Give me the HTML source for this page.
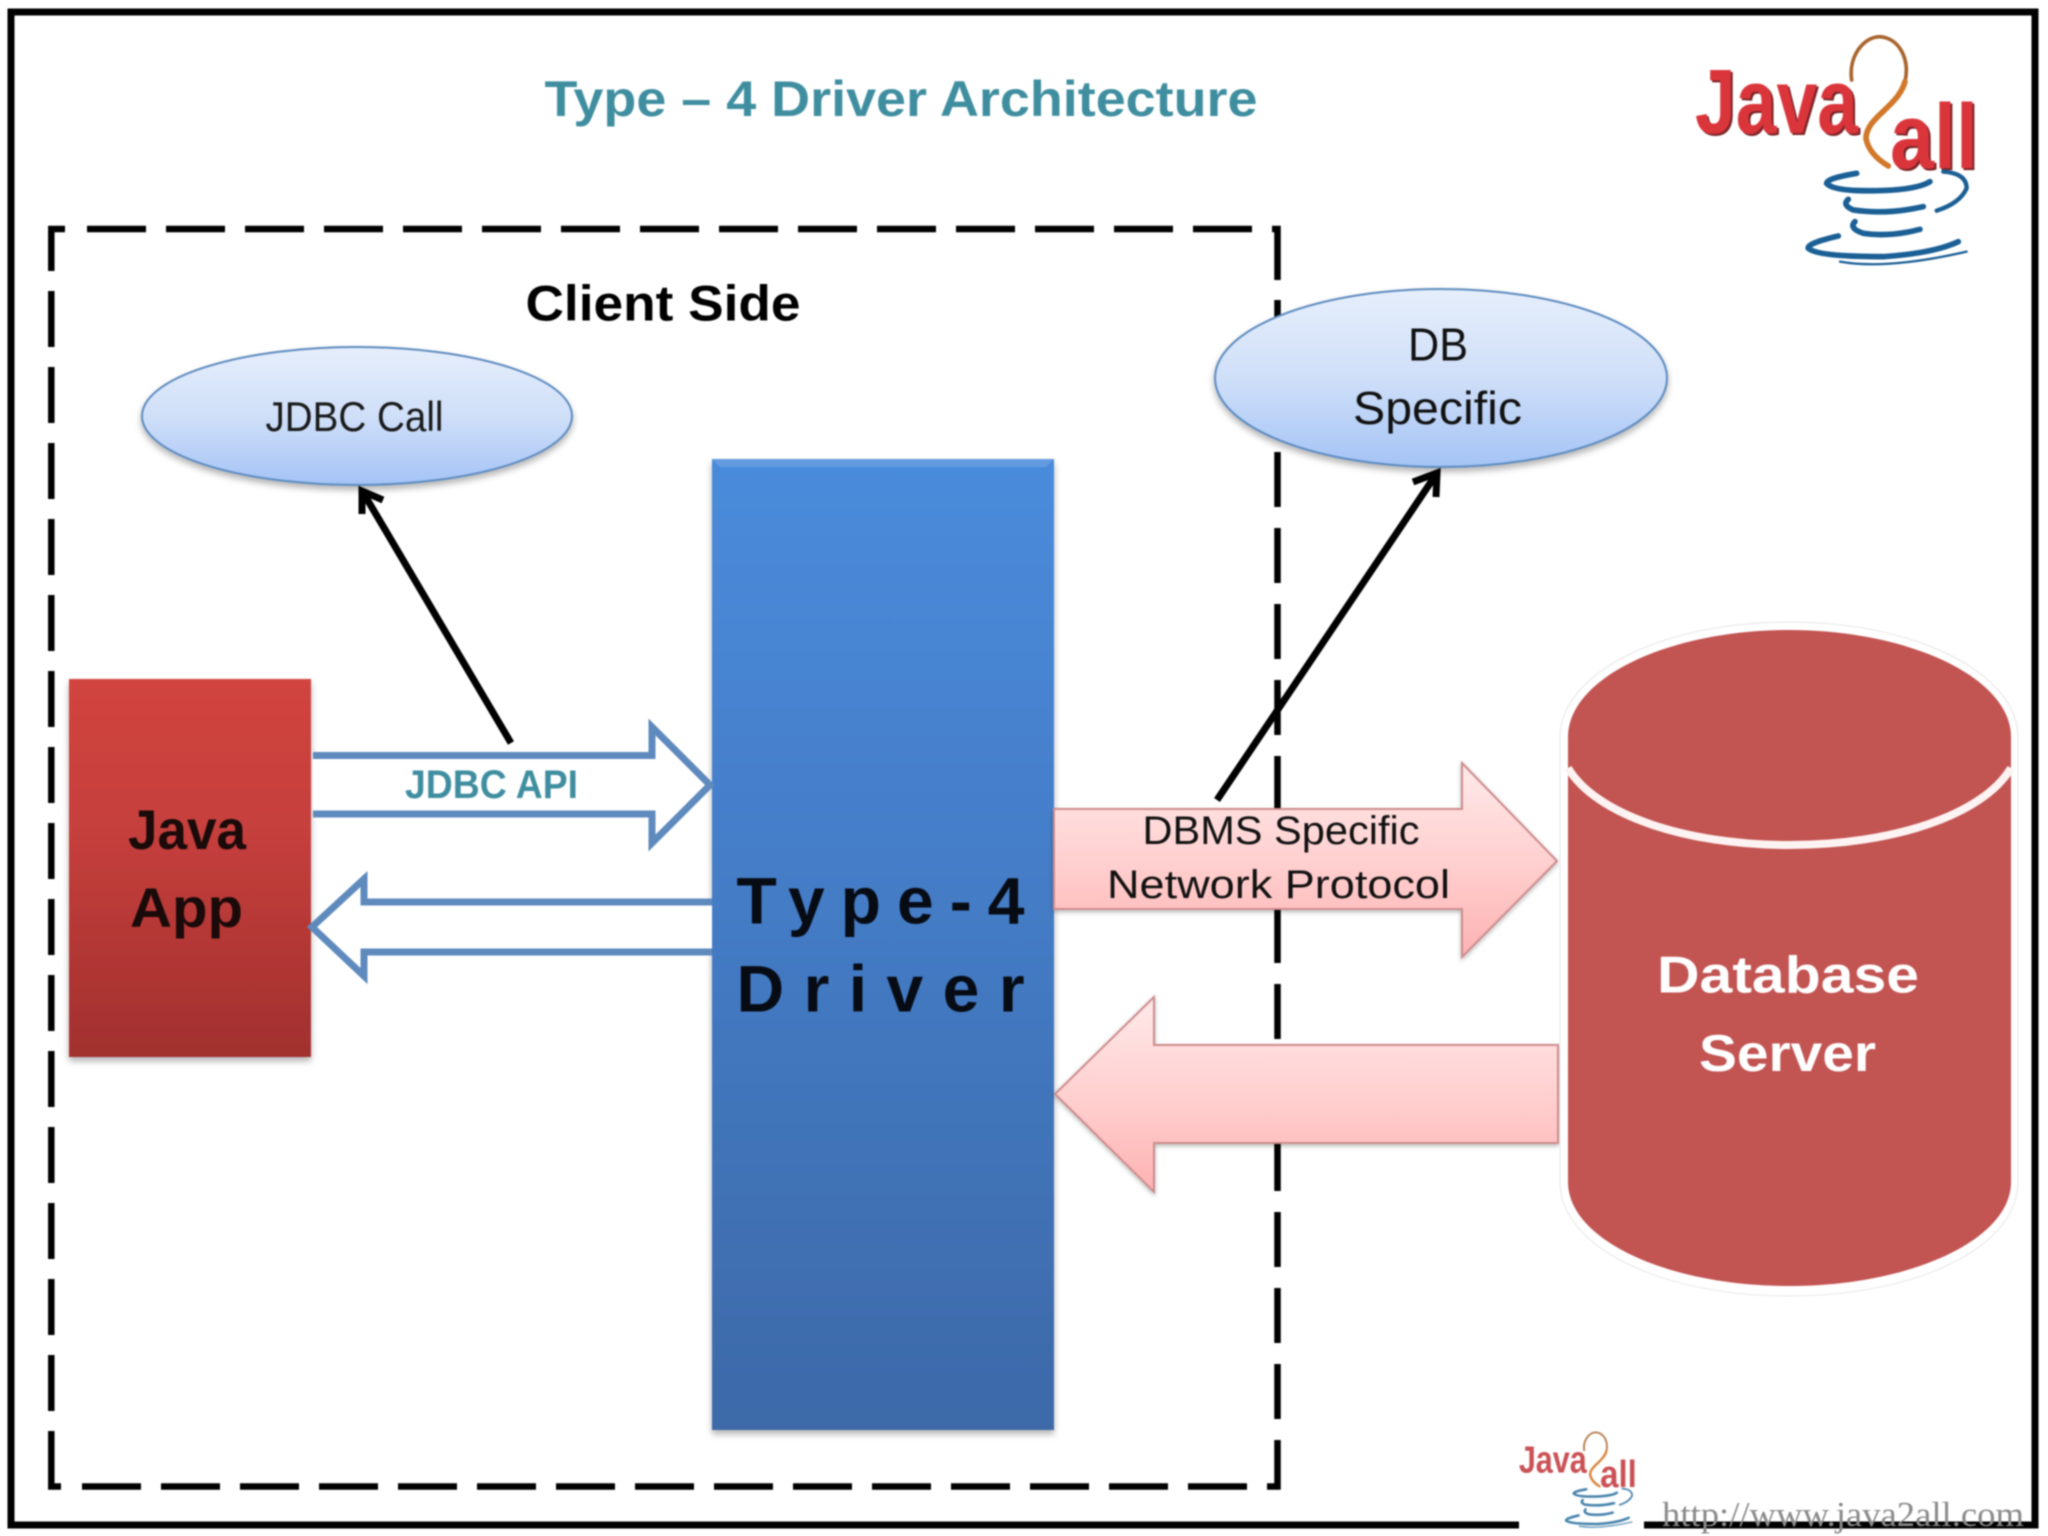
<!DOCTYPE html>
<html>
<head>
<meta charset="utf-8">
<title>Type 4 Driver Architecture</title>
<style>
html,body{margin:0;padding:0;background:#fff;width:2048px;height:1536px;overflow:hidden}
svg{display:block;filter:blur(.8px)}
text{font-family:"Liberation Sans",sans-serif}
</style>
</head>
<body>
<svg width="2048" height="1536" viewBox="0 0 2048 1536" xmlns="http://www.w3.org/2000/svg">
<defs>
<linearGradient id="ell" x1="0" y1="0" x2="0" y2="1"><stop offset="0" stop-color="#e6eefb"/><stop offset=".5" stop-color="#cfdff8"/><stop offset="1" stop-color="#a4c3f5"/></linearGradient>
<linearGradient id="blue" x1="0" y1="0" x2="0" y2="1"><stop offset="0" stop-color="#4a8bdb"/><stop offset=".35" stop-color="#457fcb"/><stop offset="1" stop-color="#3d69a8"/></linearGradient>
<linearGradient id="red" x1="0" y1="0" x2="0" y2="1"><stop offset="0" stop-color="#d1443f"/><stop offset=".4" stop-color="#c53f3c"/><stop offset="1" stop-color="#a1302e"/></linearGradient>
<linearGradient id="pink" x1="0" y1="0" x2="0" y2="1"><stop offset="0" stop-color="#ffe9e9"/><stop offset=".5" stop-color="#ffd0d0"/><stop offset="1" stop-color="#fdb2b2"/></linearGradient>
<filter id="sh" x="-10%" y="-10%" width="120%" height="120%"><feDropShadow dx="0" dy="4" stdDeviation="3.5" flood-color="#000" flood-opacity=".3"/></filter>
<filter id="glow" x="-5%" y="-5%" width="110%" height="110%"><feDropShadow dx="0" dy="2" stdDeviation="2.5" flood-color="#000" flood-opacity=".28"/></filter>
</defs>

<!-- Outer frame -->
<path d="M11 12H2035V1525H11Z" fill="none" stroke="#000" stroke-width="7"/>
<rect x="1519" y="1515" width="125" height="21" fill="#fff"/>

<!-- Dashed client box -->
<g fill="none" stroke="#000" stroke-width="6.5">
<path d="M87 229H1255" stroke-dasharray="59 20"/>
<path d="M82 1486.5H1250" stroke-dasharray="59 20"/>
<path d="M51.3 291V1425" stroke-dasharray="56 20"/>
<path d="M1277.5 300V1420" stroke-dasharray="55 21"/>
<path d="M65 229H51.3V271"/>
<path d="M1272 229H1277.5V280"/>
<path d="M61 1486.5H51.3V1431"/>
<path d="M1267 1486.5H1277.5V1440"/>
</g>

<!-- Title -->
<text x="544.5" y="116" font-size="50" font-weight="700" fill="#3f8ea0" textLength="713" lengthAdjust="spacingAndGlyphs">Type – 4 Driver Architecture</text>
<text x="525.5" y="320.5" font-size="50" font-weight="700" fill="#000" textLength="275" lengthAdjust="spacingAndGlyphs">Client Side</text>

<!-- Ellipses -->
<ellipse cx="357" cy="416" rx="215" ry="69" fill="url(#ell)" stroke="#5d8bc0" stroke-width="2" filter="url(#sh)"/>
<text x="265.5" y="431" font-size="42" fill="#1a1a1a" textLength="178" lengthAdjust="spacingAndGlyphs">JDBC Call</text>
<ellipse cx="1441" cy="378" rx="226" ry="89" fill="url(#ell)" stroke="#5d8bc0" stroke-width="2" filter="url(#sh)"/>
<text x="1408" y="360.5" font-size="46" fill="#111" textLength="60" lengthAdjust="spacingAndGlyphs">DB</text>
<text x="1353" y="424" font-size="46" fill="#111" textLength="169" lengthAdjust="spacingAndGlyphs">Specific</text>

<!-- Blue driver -->
<rect x="712" y="459" width="342" height="971" fill="url(#blue)" filter="url(#sh)"/>
<path d="M712 459H1054L1046 467H720Z" fill="#6fa3e4" opacity=".7"/>
<text x="736.5" y="923.5" font-size="66" font-weight="700" fill="#070b14" textLength="288">Type-4</text>
<text x="736.5" y="1011.5" font-size="66" font-weight="700" fill="#070b14" textLength="288">Driver</text>

<!-- Java App -->
<rect x="69" y="679" width="242" height="378" fill="url(#red)" filter="url(#sh)"/>
<text x="128" y="849" font-size="56" font-weight="700" fill="#1a0a0a" textLength="118" lengthAdjust="spacingAndGlyphs">Java</text>
<text x="130" y="927" font-size="56" font-weight="700" fill="#1a0a0a" textLength="113" lengthAdjust="spacingAndGlyphs">App</text>

<!-- JDBC arrows -->
<path d="M313 755.5H652V727L710 785L652 843V814H313" fill="#fff" stroke="#5f8abd" stroke-width="7" stroke-linejoin="miter"/>
<text x="405" y="798" font-size="40" font-weight="700" fill="#3f8ea0" textLength="173" lengthAdjust="spacingAndGlyphs">JDBC API</text>
<path d="M712 902H364V879L312 927L364 976V952H712" fill="#fff" stroke="#5f8abd" stroke-width="7"/>

<!-- Call lines -->
<g fill="none" stroke="#000" stroke-linecap="butt">
<path d="M511 743L364 494" stroke-width="7"/>
<path d="M362 514L362 491L383 500" stroke-width="7"/>
<path d="M1217 800L1435 476" stroke-width="7"/>
<path d="M1413 482L1437 473L1436 497" stroke-width="7"/>
</g>

<!-- Pink arrows -->
<path d="M1054 809H1462V763L1557 861L1462 957V909H1054Z" fill="url(#pink)" stroke="#cd8c8c" stroke-width="2" filter="url(#glow)"/>
<path d="M1558 1045H1154V997L1055 1094L1154 1192V1143H1558Z" fill="url(#pink)" stroke="#cd8c8c" stroke-width="2" filter="url(#glow)"/>
<text x="1142.5" y="844" font-size="40" fill="#111" textLength="277" lengthAdjust="spacingAndGlyphs">DBMS Specific</text>
<text x="1107" y="898" font-size="40" fill="#111" textLength="343" lengthAdjust="spacingAndGlyphs">Network Protocol</text>

<!-- Cylinder -->
<path d="M1560 737C1560 675 1659 622 1789 622C1919 622 2018 675 2018 737V1182C2018 1246 1919 1296 1789 1296C1659 1296 1560 1246 1560 1182Z" fill="#fff" stroke="#e6e6e6" stroke-width="1"/>
<path d="M1568 737C1568 678 1668 630 1789 630C1910 630 2011 678 2011 737V1182C2011 1240 1910 1286 1789 1286C1668 1286 1568 1240 1568 1182Z" fill="#c25452"/>
<path d="M1568 768C1596 815 1686 845 1789 845C1893 845 1983 815 2011 768" fill="none" stroke="#fdf3f2" stroke-width="8"/>
<text x="1657" y="992.5" font-size="52" font-weight="700" fill="#fff" textLength="262" lengthAdjust="spacingAndGlyphs">Database</text>
<text x="1699" y="1071" font-size="52" font-weight="700" fill="#fff" textLength="177" lengthAdjust="spacingAndGlyphs">Server</text>

<!-- Large logo -->
<g>
<text x="1697" y="135" font-size="92" font-weight="700" fill="#7c2528" textLength="163" lengthAdjust="spacingAndGlyphs">Java</text>
<text x="1892" y="170" font-size="92" font-weight="700" fill="#7c2528" textLength="88" lengthAdjust="spacingAndGlyphs">all</text>
<text x="1695" y="133" font-size="92" font-weight="700" fill="#da353b" textLength="163" lengthAdjust="spacingAndGlyphs">Java</text>
<text x="1890" y="168" font-size="92" font-weight="700" fill="#da353b" textLength="88" lengthAdjust="spacingAndGlyphs">all</text>
<g transform="translate(1600 0) scale(.3333)" fill="none" stroke-linecap="round">
<path d="M755 240C745 170 790 110 840 110C900 115 930 180 915 245" stroke="#a9652e" stroke-width="11"/>
<path d="M915 245C895 320 800 350 798 415C805 455 835 480 865 498" stroke="#d2782a" stroke-width="17"/>
<g stroke="#1a5f95" stroke-width="17">
<path d="M770 520Q680 535 680 550Q700 575 830 572Q950 570 990 545"/>
<path d="M745 598Q725 615 760 630Q860 645 970 620"/>
<path d="M765 665Q745 685 790 700Q870 712 960 688"/>
<path d="M715 708Q620 730 625 745Q650 770 850 770Q1000 760 1075 725"/>
<path d="M720 785Q860 810 1100 755" stroke-width="7"/>
<path d="M1030 515Q1100 520 1100 565Q1080 610 1010 632" stroke-width="13"/>
</g>
</g>
</g>

<!-- Small logo -->
<g transform="translate(812 1417) scale(.417)" opacity=".88">
<text x="1695" y="133" font-size="92" font-weight="700" fill="#c33a3e" textLength="163" lengthAdjust="spacingAndGlyphs">Java</text>
<text x="1890" y="168" font-size="92" font-weight="700" fill="#c33a3e" textLength="88" lengthAdjust="spacingAndGlyphs">all</text>
<g transform="translate(1600 0) scale(.3333)" fill="none" stroke-linecap="round">
<path d="M755 240C745 170 790 110 840 110C900 115 930 180 915 245" stroke="#a9652e" stroke-width="13"/>
<path d="M915 245C895 320 800 350 798 415C805 455 835 480 865 498" stroke="#d2782a" stroke-width="18"/>
<g stroke="#2a6f9f" stroke-width="18">
<path d="M770 520Q680 535 680 550Q700 575 830 572Q950 570 990 545"/>
<path d="M745 598Q725 615 760 630Q860 645 970 620"/>
<path d="M765 665Q745 685 790 700Q870 712 960 688"/>
<path d="M715 708Q620 730 625 745Q650 770 850 770Q1000 760 1075 725"/>
<path d="M720 785Q860 810 1100 755" stroke-width="8"/>
<path d="M1030 515Q1100 520 1100 565Q1080 610 1010 632" stroke-width="12"/>
</g>
</g>
</g>

<!-- Watermark URL -->
<text x="1662" y="1526" font-size="35" fill="#8a8a8a" style="font-family:'Liberation Serif',serif" textLength="362" lengthAdjust="spacingAndGlyphs">http://www.java2all.com</text>
</svg>
</body>
</html>
